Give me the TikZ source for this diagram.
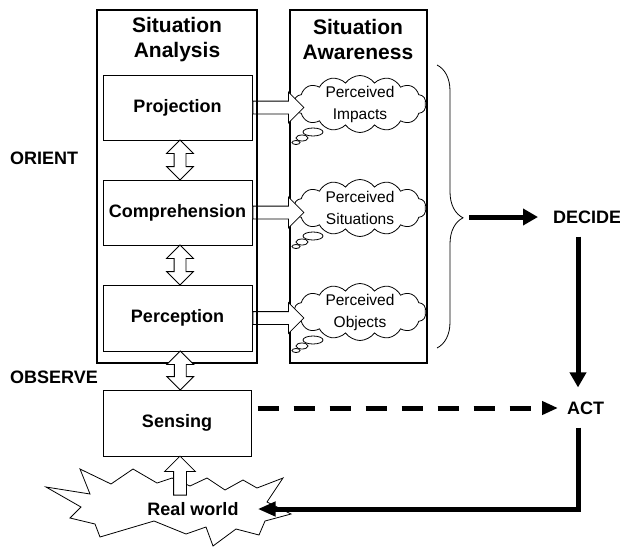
\documentclass[tikz,border=0pt]{standalone}
\usepackage{fontspec}
\setmainfont{Liberation Sans}
\usetikzlibrary{arrows.meta,calc,shapes.arrows,shapes.symbols,decorations.pathreplacing}

\newcommand\lblfont{\fontsize{18}{21}\selectfont\bfseries}
\newcommand\ttlfont{\fontsize{21}{25}\selectfont\bfseries}
\newcommand\cldfont{\fontsize{15.5}{22}\selectfont}

\begin{document}
\begin{tikzpicture}[x=1pt, y=-1pt, >=Triangle,
    stage/.style={draw, line width=1pt, fill=white, minimum width=149pt,
        minimum height=65pt, font=\lblfont},
    panel/.style={draw, line width=2.4pt, minimum width=#1, minimum height=353pt},
    thought/.style={cloud, cloud puffs=14, cloud puff arc=110, cloud ignores aspect,
        draw, line width=0.8pt, fill=white, minimum width=132pt, minimum height=57pt,
        inner sep=0pt},
    cldtext/.style={font=\cldfont, align=center},
    dblarrow/.style={double arrow, draw, fill=white, line width=0.8pt, inner sep=5.5pt,
        double arrow head extend=7.5pt, minimum height=#1, rotate=90},
    sglarrow/.style={single arrow, draw, fill=white, line width=0.8pt, inner sep=6pt,
        single arrow head extend=9pt, minimum height=#1, anchor=tail},
    heavy/.style={line width=5pt},
    phase/.style={font=\lblfont, inner sep=0pt}]
\useasboundingbox (0,0) rectangle (620,546);

% right panel
\node[panel=137pt] (aware) at (358.5,186.5) {};
\node[font=\ttlfont, align=center] (awtitle) at (358,39.5) {Situation\\Awareness};

% stages
\node[stage] (proj) at (177.5,107.5) {Projection};
\node[stage] (comp) at (177.5,212.5) {Comprehension};
\node[stage, minimum height=66pt] (perc) at (177.5,318) {Perception};
\node[stage, minimum width=148pt, minimum height=66pt] (sens) at (177,423) {Sensing};

% thoughts
\node[thought, label={[cldtext]center:Perceived\\Impacts}] (imp) at (360,104) {};
\node[thought, label={[cldtext]center:Perceived\\Situations}] (sit) at (360,208) {};
\node[thought, label={[cldtext]center:Perceived\\Objects}] (obj) at (360,312) {};
\foreach \c in {imp,sit,obj} {
    \draw[fill=white, line width=0.8pt] ($(\c)+(-47,28)$) ellipse (10 and 4);
    \draw[fill=white, line width=0.8pt] ($(\c)+(-58,34)$) ellipse (6 and 3);
    \draw[fill=white, line width=0.8pt] ($(\c)+(-64,38.5)$) ellipse (4 and 2);
}
\node[sglarrow=51pt] (projout) at (proj.east) {};
\node[sglarrow=51pt] (compout) at (comp.east) {};
\node[sglarrow=51pt] (percout) at (perc.east) {};

% left panel
\node[panel=160pt] (analysis) at (177,186.5) {};
\node[font=\ttlfont, align=center] (antitle) at (177,39.5) {Situation\\Analysis};

\node[dblarrow=40pt] (pc) at ($(proj.south)!0.5!(comp.north)+(2.5,0)$) {};
\node[dblarrow=40pt] (cp) at ($(comp.south)!0.5!(perc.north)+(2.5,0)$) {};
\node[dblarrow=39pt] (ps) at ($(perc.south)!0.5!(sens.north)+(3,0)$) {};

\node[phase, anchor=west] (orient) at (10,158) {ORIENT};
\node[phase, anchor=west] (observe) at (10,377) {OBSERVE};
\node[phase, anchor=west] (decide) at (553,217) {DECIDE};
\node[phase, anchor=west] (act) at (567,408) {ACT};

% real world
\draw[line width=0.8pt, fill=white] (46,487) -- (90,494) -- (80,469) -- (111,484)
    -- (133,469) -- (157,483) -- (172,478) -- (190,486) -- (207,478) -- (225,490)
    -- (243,480) -- (257,488) -- (283,478) -- (267,502) -- (291,514) -- (265,521)
    -- (259,535) -- (236,529) -- (213,546) -- (206,527) -- (186,534) -- (154,521)
    -- (100,537) -- (95,524) -- (70,518) -- (81,507) -- cycle;
\node[font=\lblfont, inner xsep=19pt] (world) at (193,509) {Real world};
\node[sglarrow=39pt, rotate=90] (sensin) at ($(sens.south)+(3,39)$) {};

% brace and loop
\draw[decorate, decoration={brace, amplitude=26pt, aspect=0.54}, line width=0.8pt]
    (437,65) -- (437,348);
\coordinate (bt) at (463,217);
\coordinate (col) at (578,0);
\draw[heavy, -{Triangle[length=15pt,width=16pt]}, shorten <=6pt, shorten >=15pt]
    (bt) -- (decide.west);
\draw[heavy, -{Triangle[length=15pt,width=16pt]}, shorten <=13pt, shorten >=14pt]
    (decide.south -| col) -- (act.north -| col);
\draw[heavy, dash pattern=on 21pt off 15pt, -{Triangle[length=16pt,width=13pt]},
    shorten <=6pt, shorten >=9pt] (sens.east |- act.west) -- (act.west);
\draw[heavy, -{Triangle[length=18pt,width=14pt]}, shorten <=13pt]
    (act.south -| col) |- (world.east);
\end{tikzpicture}
\end{document}
